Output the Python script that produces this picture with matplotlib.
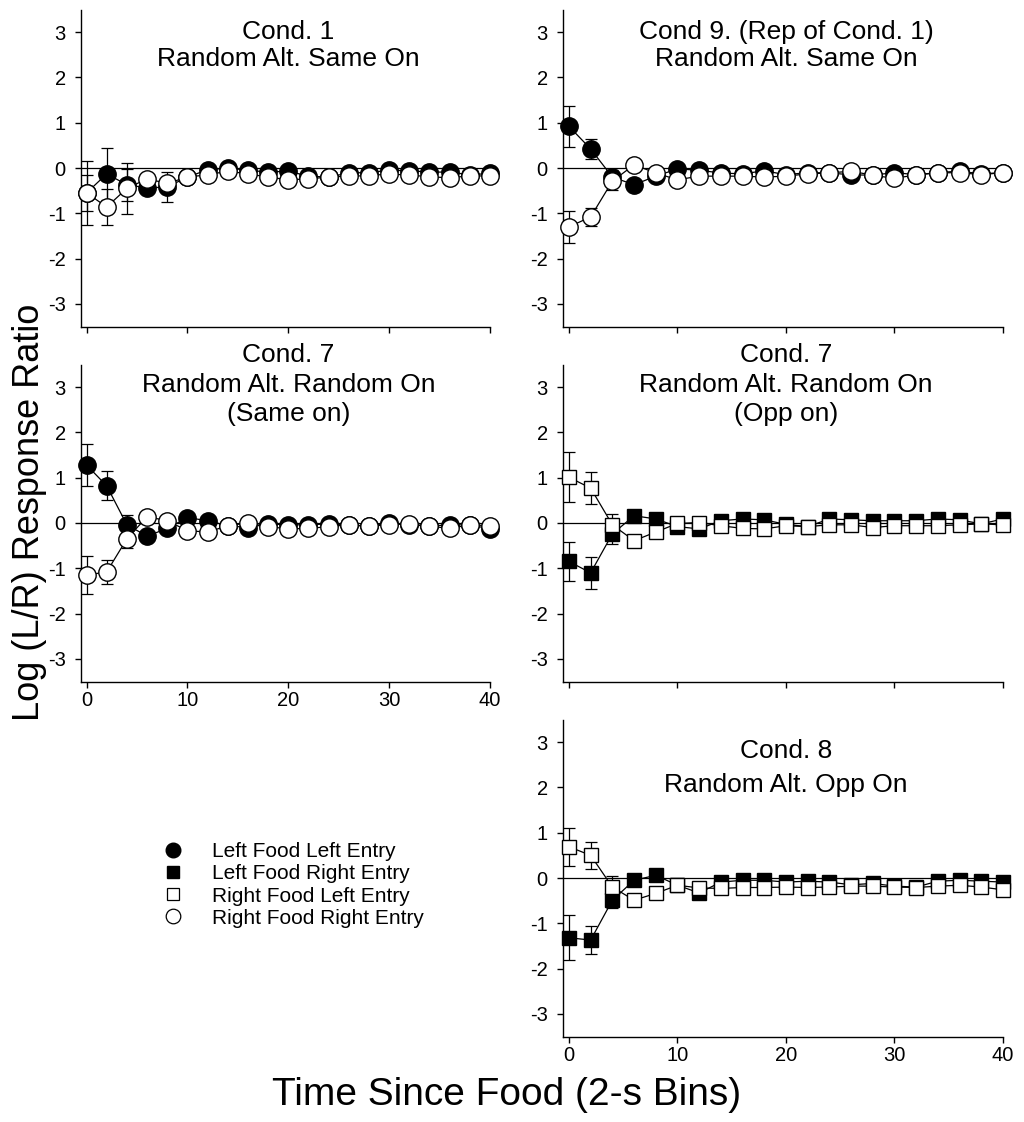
import matplotlib
matplotlib.use("Agg")
import matplotlib.pyplot as plt
from matplotlib.lines import Line2D
import numpy as np

plt.rcParams['font.family'] = ['Liberation Sans', 'DejaVu Sans']
plt.rcParams['axes.unicode_minus'] = False

# ---------------- data ----------------
time_bins = [0, 2, 4, 6, 8, 10, 12, 14, 16, 18, 20, 22, 24, 26, 28, 30, 32, 34, 36, 38, 40]

# Cond. 1 Random Alt. Same On
c1_lfle = [-0.55, -0.13, -0.37, -0.44, -0.42, -0.20, -0.04, 0.00, -0.05, -0.09, -0.07,
           -0.18, -0.20, -0.11, -0.10, -0.05, -0.06, -0.09, -0.09, -0.15, -0.12]
c1_lfle_err = [0.70, 0.57, 0.35, 0, 0.33] + [0] * 16
c1_rfre = [-0.55, -0.86, -0.45, -0.24, -0.34, -0.20, -0.15, -0.07, -0.13, -0.20, -0.26,
           -0.24, -0.20, -0.18, -0.17, -0.13, -0.16, -0.19, -0.22, -0.17, -0.18]
c1_rfre_err = [0.40, 0.40, 0.57, 0, 0.10] + [0] * 16

# Cond 9 (Rep of Cond. 1)
c9_lfle = [0.92, 0.42, -0.20, -0.37, -0.18, -0.02, -0.05, -0.11, -0.13, -0.06, -0.15,
           -0.10, -0.11, -0.15, -0.16, -0.10, -0.15, -0.10, -0.07, -0.13, -0.10]
c9_lfle_err = [0.46, 0.23, 0.15] + [0] * 18
c9_rfre = [-1.30, -1.08, -0.29, 0.07, -0.11, -0.26, -0.18, -0.18, -0.18, -0.20, -0.18,
           -0.13, -0.11, -0.07, -0.16, -0.23, -0.15, -0.11, -0.10, -0.15, -0.10]
c9_rfre_err = [0.35, 0.20, 0.20] + [0] * 18

# Cond. 7 Random Alt. Random On (Same on)
c7s_lfle = [1.28, 0.82, -0.04, -0.29, -0.12, 0.12, 0.05, -0.06, -0.10, -0.02, -0.04,
            -0.04, -0.02, -0.05, -0.07, 0.00, -0.04, -0.07, -0.04, -0.04, -0.13]
c7s_lfle_err = [0.47, 0.32, 0.22] + [0] * 18
c7s_rfre = [-1.15, -1.08, -0.35, 0.14, 0.05, -0.17, -0.20, -0.06, 0.00, -0.08, -0.13,
            -0.12, -0.08, -0.04, -0.07, -0.04, -0.02, -0.07, -0.12, -0.04, -0.06]
c7s_rfre_err = [0.42, 0.27, 0.20] + [0] * 18

# Cond. 7 Random Alt. Random On (Opp on)
c7o_lfre = [-0.85, -1.10, -0.24, 0.16, 0.09, -0.08, -0.13, 0.05, 0.09, 0.07, -0.03,
            -0.08, 0.09, 0.07, 0.05, 0.05, 0.05, 0.09, 0.07, -0.02, 0.09]
c7o_lfre_err = [0.42, 0.35, 0.22] + [0] * 18
c7o_rfle = [1.01, 0.77, -0.04, -0.39, -0.20, -0.01, 0.01, -0.06, -0.12, -0.13, -0.06,
            -0.08, -0.04, -0.04, -0.10, -0.06, -0.06, -0.06, -0.04, -0.02, -0.04]
c7o_rfle_err = [0.55, 0.35, 0.24] + [0] * 18

# Cond. 8 Random Alt. Opp On
c8_lfre = [-1.32, -1.37, -0.49, -0.05, 0.06, -0.16, -0.33, -0.09, -0.05, -0.05, -0.09,
           -0.07, -0.09, -0.15, -0.12, -0.18, -0.20, -0.07, -0.05, -0.07, -0.09]
c8_lfre_err = [0.50, 0.30, 0.18] + [0] * 18
c8_rfle = [0.69, 0.50, -0.20, -0.49, -0.34, -0.16, -0.22, -0.23, -0.21, -0.21, -0.20,
           -0.21, -0.20, -0.18, -0.18, -0.20, -0.21, -0.18, -0.16, -0.20, -0.26]
c8_rfle_err = [0.42, 0.30, 0.24] + [0] * 18

legend_labels = ["Left Food Left Entry", "Left Food Right Entry",
                 "Right Food Left Entry", "Right Food Right Entry"]
y_ticks = [-3, -2, -1, 0, 1, 2, 3]
x_ticks = [0, 10, 20, 30, 40]

# ---------------- figure ----------------
W, H = 1024, 1122
fig = plt.figure(figsize=(W / 100, H / 100), dpi=100)


def px_axes(x0, x1, y0, y1):
    return fig.add_axes([x0 / W, 1 - y1 / H, (x1 - x0) / W, (y1 - y0) / H])


LX0, LX1 = 81, 490
RX0, RX1 = 563, 1003
ROWS = [(9.5, 326.5), (364.5, 681.5), (719.5, 1036.5)]

ax1 = px_axes(LX0, LX1, *ROWS[0])
ax2 = px_axes(RX0, RX1, *ROWS[0])
ax3 = px_axes(LX0, LX1, *ROWS[1])
ax4 = px_axes(RX0, RX1, *ROWS[1])
ax5 = px_axes(RX0, RX1, *ROWS[2])

TICK_FS = 14.5
TITLE_FS = 19


def style(ax, xlabels):
    ax.set_xlim(-0.55, 40)
    ax.set_ylim(-3.5, 3.5)
    ax.set_yticks(y_ticks)
    ax.set_xticks(x_ticks)
    for s in ['top', 'right']:
        ax.spines[s].set_visible(False)
    for s in ['left', 'bottom']:
        ax.spines[s].set_linewidth(1.0)
    ax.tick_params(direction='out', length=4, width=1, labelsize=TICK_FS)
    ax.tick_params(axis='y', pad=7)
    ax.tick_params(axis='x', pad=3)
    if not xlabels:
        ax.set_xticklabels([])
    ax.axhline(0, color='black', lw=0.9, zorder=1)


def series(ax, y, err, marker, face, ms):
    ax.errorbar(time_bins, y, yerr=err, fmt='none', ecolor='black', elinewidth=0.9,
                capsize=4, capthick=0.9, zorder=2, clip_on=False)
    ax.plot(time_bins, y, color='black', lw=0.9, marker=marker, ms=ms,
            mfc=face, mec='black', mew=1.0, zorder=3, clip_on=False)


def titles(ax, lines, ys):
    for t, yy in zip(lines, ys):
        ax.text(20, yy, t, ha='center', va='center', fontsize=TITLE_FS, clip_on=False)


CIRC_MS = 12.5
SQ_MS = 10.5

style(ax1, False)
series(ax1, c1_lfle, c1_lfle_err, 'o', 'black', CIRC_MS)
series(ax1, c1_rfre, c1_rfre_err, 'o', 'white', CIRC_MS)
titles(ax1, ["Cond. 1", "Random Alt. Same On"], [3.0, 2.4])

style(ax2, False)
series(ax2, c9_lfle, c9_lfle_err, 'o', 'black', CIRC_MS)
series(ax2, c9_rfre, c9_rfre_err, 'o', 'white', CIRC_MS)
titles(ax2, ["Cond 9. (Rep of Cond. 1)", "Random Alt. Same On"], [3.0, 2.4])

style(ax3, True)
series(ax3, c7s_lfle, c7s_lfle_err, 'o', 'black', CIRC_MS)
series(ax3, c7s_rfre, c7s_rfre_err, 'o', 'white', CIRC_MS)
titles(ax3, ["Cond. 7", "Random Alt. Random On", "(Same on)"], [3.7, 3.05, 2.4])

style(ax4, False)
series(ax4, c7o_lfre, c7o_lfre_err, 's', 'black', SQ_MS)
series(ax4, c7o_rfle, c7o_rfle_err, 's', 'white', SQ_MS)
titles(ax4, ["Cond. 7", "Random Alt. Random On", "(Opp on)"], [3.7, 3.05, 2.4])

style(ax5, True)
series(ax5, c8_lfre, c8_lfre_err, 's', 'black', SQ_MS)
series(ax5, c8_rfle, c8_rfle_err, 's', 'white', SQ_MS)
titles(ax5, ["Cond. 8", "Random Alt. Opp On"], [2.8, 2.05])

# axis labels
fig.text(30 / W, 1 - 512 / H, "Log (L/R) Response Ratio", rotation=90,
         ha='center', va='center', fontsize=26)
fig.text(507 / W, 1 - 1095 / H, "Time Since Food (2-s Bins)",
         ha='center', va='center', fontsize=28)

# legend
handles = [
    Line2D([], [], ls='none', marker='o', ms=10.5, mfc='black', mec='black'),
    Line2D([], [], ls='none', marker='s', ms=9, mfc='black', mec='black'),
    Line2D([], [], ls='none', marker='s', ms=9, mfc='white', mec='black', mew=0.9),
    Line2D([], [], ls='none', marker='o', ms=10.5, mfc='white', mec='black', mew=0.9),
]
fig.legend(handles, legend_labels, loc='center left',
           bbox_to_anchor=(150 / W, 1 - 885 / H), frameon=False, fontsize=15,
           handlelength=1.2, handletextpad=1.3, labelspacing=0.15, borderpad=0)

fig.savefig("out.png", dpi=100)
